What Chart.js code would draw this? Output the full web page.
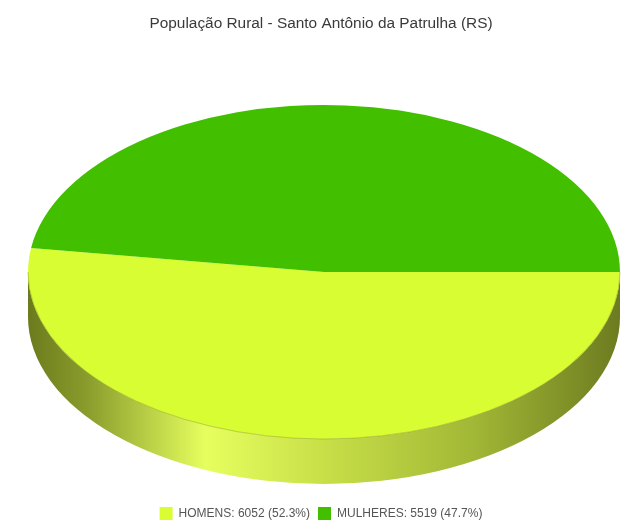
<!DOCTYPE html>
<html>
<head>
<meta charset="utf-8">
<script src="https://cdn.jsdelivr.net/npm/chart.js@4.4.0/dist/chart.umd.min.js"></script>
<style>
  html, body { margin: 0; padding: 0; background: #fff; }
  #wrap { width: 622px; height: 520px; }
</style>
</head>
<body>
<div id="wrap"><canvas id="pie" width="622" height="520"></canvas></div>
<script>
const labels = ['HOMENS', 'MULHERES'];
const values = [6052, 5519];
const percents = ['52.3%', '47.7%'];
const colors = ['#d8fd33', '#42c000'];

// side wall shading, left -> right
const sideStops = [
  [[0, '#6b7b1d'], [0.1, '#8a9c2c'], [0.3, '#e6ff5e'], [0.5, '#c8df48'], [0.75, '#a2b836'], [1, '#6d7b20']],
  [[0, '#1f5c00'], [0.1, '#2c7a00'], [0.3, '#5ad41a'], [0.5, '#3fae00'], [0.75, '#318c00'], [1, '#1f5c00']]
];

// fake 3D: squash the pie into an ellipse and draw a side wall under it
const pie3d = {
  id: 'pie3d',
  beforeDatasetsDraw(chart, args, opts) {
    const ctx = chart.ctx;
    const meta = chart.getDatasetMeta(0);
    const arc0 = meta.data[0];
    const { cx, cy, rx, ry, depth } = opts;
    ctx.save();
    meta.data.forEach((arc, i) => {
      const a1 = Math.max(arc.startAngle, 0);
      const a2 = Math.min(arc.endAngle, Math.PI);
      if (a2 <= a1) return;
      const g = ctx.createLinearGradient(cx - rx, 0, cx + rx, 0);
      sideStops[i].forEach(s => g.addColorStop(s[0], s[1]));
      ctx.beginPath();
      ctx.ellipse(cx, cy, rx, ry, 0, a1, a2);
      ctx.ellipse(cx, cy + depth, rx, ry, 0, a2, a1, true);
      ctx.closePath();
      ctx.fillStyle = g;
      ctx.fill();
    });
    ctx.translate(cx, cy);
    ctx.scale(rx / arc0.outerRadius, ry / arc0.outerRadius);
    ctx.translate(-arc0.x, -arc0.y);
  },
  afterDatasetsDraw(chart, args, opts) {
    const ctx = chart.ctx;
    ctx.restore();
    const { cx, cy, rx, ry } = opts;
    ctx.save();
    ctx.beginPath();
    ctx.ellipse(cx, cy, rx, ry, 0, 0, Math.PI);
    ctx.strokeStyle = 'rgba(130,150,20,0.45)';
    ctx.lineWidth = 1;
    ctx.stroke();
    ctx.restore();
  }
};

new Chart(document.getElementById('pie'), {
  type: 'pie',
  data: {
    labels,
    datasets: [{
      data: values,
      backgroundColor: colors,
      borderWidth: 0,
      clip: false
    }]
  },
  options: {
    responsive: false,
    animation: false,
    rotation: 90,
    events: [],
    layout: { padding: { left: 20, bottom: -10 } },
    plugins: {
      pie3d: { cx: 324, cy: 272, rx: 296, ry: 167, depth: 45 },
      title: {
        display: true,
        text: 'População Rural - Santo Antônio da Patrulha (RS)',
        color: '#3a3a3a',
        font: { family: 'Liberation Sans', size: 15.4, weight: 'normal' },
        padding: { top: 15, bottom: 10 }
      },
      legend: {
        position: 'bottom',
        labels: {
          color: '#555',
          font: { family: 'Liberation Sans', size: 12 },
          boxWidth: 13,
          boxHeight: 13,
          padding: 8,
          generateLabels: (chart) => labels.map((l, i) => ({
            text: `${l}: ${values[i]} (${percents[i]})`,
            fillStyle: colors[i],
            strokeStyle: colors[i],
            lineWidth: 0,
            fontColor: '#555',
            index: i
          }))
        }
      },
      tooltip: { enabled: false }
    }
  },
  plugins: [pie3d]
});
</script>
</body>
</html>
